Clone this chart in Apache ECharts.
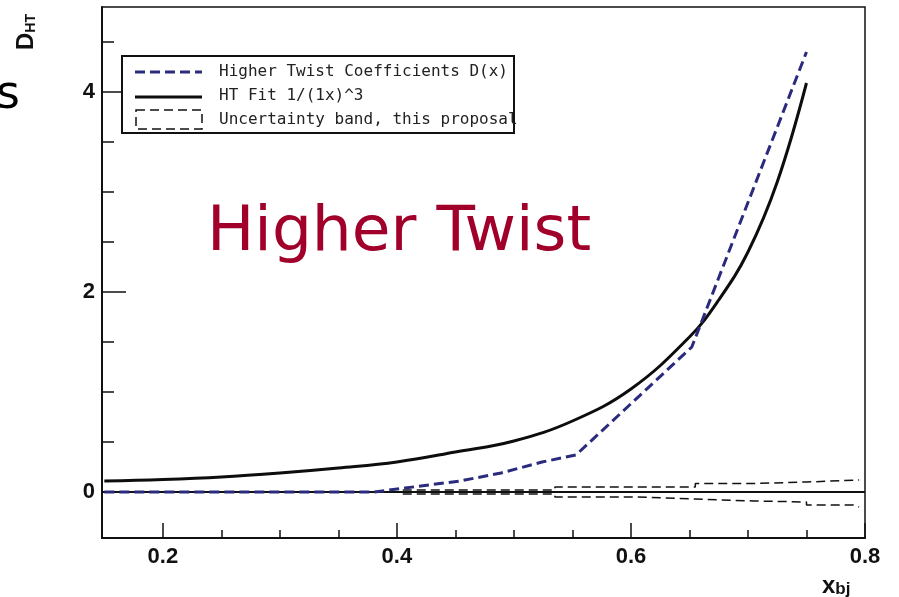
<!DOCTYPE html>
<html>
<head>
<meta charset="utf-8">
<script src="https://cdn.jsdelivr.net/npm/echarts@6/dist/echarts.min.js"></script>
<style>
  html, body { margin: 0; padding: 0; background: #fff; }
  #chart { width: 899px; height: 597px; }
</style>
</head>
<body>
<div id="chart"></div>
<script>
// Higher-twist coefficient D(x) (piecewise) against x_bj
const htX = [0.15, 0.2, 0.25, 0.3, 0.35, 0.38, 0.407, 0.454, 0.489, 0.524, 0.553, 0.652, 0.75];
const htY = [0, 0, 0, 0, 0, 0, 0.04, 0.11, 0.19, 0.30, 0.37, 1.45, 4.40];

// Fit curve of the form 1/(1-x)^3, read at these x values
const fitX = [0.15, 0.2, 0.25, 0.3, 0.35, 0.4, 0.45, 0.5, 0.55, 0.6, 0.65, 0.675, 0.7, 0.725, 0.75];
const fitY = [0.11, 0.125, 0.15, 0.19, 0.24, 0.30, 0.40, 0.51, 0.71, 1.03, 1.55, 1.92, 2.40, 3.10, 4.09];

// Uncertainty band edges (binned, drawn as steps)
const bandUpX = [0.405, 0.535, 0.655, 0.705, 0.75, 0.795];
const bandUpY = [0.02, 0.05, 0.085, 0.10, 0.12, 0.12];
const bandLoX = [0.405, 0.535, 0.605, 0.655, 0.705, 0.75, 0.79, 0.795];
const bandLoY = [-0.02, -0.05, -0.07, -0.09, -0.10, -0.13, -0.15, -0.15];

// Axis ranges and ticks
const xRange = [0.148, 0.8];
const yRange = [-0.46, 4.85];
const xMajor = [0.2, 0.4, 0.6, 0.8];
const xMinor = [0.25, 0.3, 0.35, 0.45, 0.5, 0.55, 0.65, 0.7, 0.75];
const yMajor = [0, 2, 4];
const yMinor = [0.5, 1, 1.5, 2.5, 3, 3.5, 4.5];

const legendLabels = [
  'Higher Twist Coefficients D(x)',
  'HT Fit 1/(1x)^3',
  'Uncertainty band, this proposal'
];

const zip = (xs, ys) => xs.map((x, i) => [x, ys[i]]);

const labelFont = { fontFamily: 'Liberation Sans', fontWeight: 'bold', fontSize: 22, color: '#111' };

const chart = echarts.init(document.getElementById('chart'), null, { renderer: 'canvas' });

chart.setOption({
  animation: false,
  backgroundColor: '#ffffff',
  grid: {
    left: 102, right: 34, top: 7, bottom: 59,
    show: true, borderColor: '#111', borderWidth: 1.5,
    outerBoundsMode: 'none'
  },
  xAxis: [
    {
      type: 'value', position: 'bottom', min: xRange[0], max: xRange[1],
      axisLine: { show: true, onZero: false, lineStyle: { color: '#111', width: 2 } },
      axisTick: { show: true, inside: true, length: 15, customValues: xMajor, lineStyle: { color: '#111', width: 1.5 } },
      axisLabel: Object.assign({ show: true, margin: 8, customValues: xMajor, formatter: v => v.toFixed(1) }, labelFont),
      splitLine: { show: false }
    },
    {
      type: 'value', position: 'bottom', min: xRange[0], max: xRange[1],
      axisLine: { show: false, onZero: false },
      axisTick: { show: true, inside: true, length: 8, customValues: xMinor, lineStyle: { color: '#111', width: 1.5 } },
      axisLabel: { show: false },
      splitLine: { show: false }
    }
  ],
  yAxis: [
    {
      type: 'value', position: 'left', min: yRange[0], max: yRange[1],
      axisLine: { show: true, onZero: false, lineStyle: { color: '#111', width: 2 } },
      axisTick: { show: true, inside: true, length: 24, customValues: yMajor, lineStyle: { color: '#111', width: 1.5 } },
      axisLabel: Object.assign({ show: true, margin: 7, customValues: yMajor, formatter: v => String(v) }, labelFont),
      splitLine: { show: false }
    },
    {
      type: 'value', position: 'left', min: yRange[0], max: yRange[1],
      axisLine: { show: false, onZero: false },
      axisTick: { show: true, inside: true, length: 12, customValues: yMinor, lineStyle: { color: '#111', width: 1.5 } },
      axisLabel: { show: false },
      splitLine: { show: false }
    }
  ],
  series: [
    {
      name: 'zero', type: 'line', xAxisIndex: 0, yAxisIndex: 0,
      data: [[xRange[0], 0], [xRange[1], 0]],
      showSymbol: false, silent: true, z: 1,
      lineStyle: { color: '#111', width: 2 }
    },
    {
      name: 'band upper', type: 'line', step: 'end', xAxisIndex: 0, yAxisIndex: 0,
      data: zip(bandUpX, bandUpY), showSymbol: false, z: 2,
      lineStyle: { color: '#111', width: 1.5, type: [9, 5] }
    },
    {
      name: 'band lower', type: 'line', step: 'end', xAxisIndex: 0, yAxisIndex: 0,
      data: zip(bandLoX, bandLoY), showSymbol: false, z: 2,
      lineStyle: { color: '#111', width: 1.5, type: [9, 5] }
    },
    {
      name: 'HT Fit', type: 'line', xAxisIndex: 0, yAxisIndex: 0,
      data: zip(fitX, fitY), showSymbol: false, smooth: 0.4, z: 3,
      lineStyle: { color: '#0d0d0d', width: 3 }
    },
    {
      name: 'Higher Twist Coefficients', type: 'line', xAxisIndex: 0, yAxisIndex: 0,
      data: zip(htX, htY), showSymbol: false, z: 4,
      lineStyle: { color: '#2b2b7e', width: 3, type: [10, 5] }
    }
  ],
  graphic: [
    // legend box
    { type: 'rect', z: 100, shape: { x: 122, y: 56, width: 392, height: 77 },
      style: { fill: '#fff', stroke: '#111', lineWidth: 2 } },
    { type: 'line', z: 101, shape: { x1: 135, y1: 72, x2: 202, y2: 72 },
      style: { stroke: '#2b2b7e', lineWidth: 3, lineDash: [10, 5] } },
    { type: 'line', z: 101, shape: { x1: 135, y1: 97, x2: 202, y2: 97 },
      style: { stroke: '#0d0d0d', lineWidth: 3 } },
    { type: 'rect', z: 101, shape: { x: 136, y: 110, width: 66, height: 19 },
      style: { fill: 'none', stroke: '#111', lineWidth: 1.5, lineDash: [9, 5] } },
    ...legendLabels.map((t, i) => ({
      type: 'text', z: 102, x: 219, y: [72, 96, 120][i],
      style: { text: t, fill: '#222', font: '16px "DejaVu Sans Mono"', textVerticalAlign: 'middle' }
    })),
    // title inside the plot
    { type: 'text', z: 50, x: 207, y: 234,
      style: { text: 'Higher Twist', fill: '#a0002a', font: '63px "DejaVu Sans"', textVerticalAlign: 'middle' } },
    // axis titles
    { type: 'text', z: 50, x: 38, y: 50, rotation: Math.PI / 2,
      style: { text: '{d|D}{s|HT}', rich: {
        d: { font: 'bold 24px "Liberation Sans"', fill: '#111' },
        s: { font: 'bold 14px "Liberation Sans"', fill: '#111', padding: [10, 0, 0, 0] }
      }, textVerticalAlign: 'bottom' } },
    { type: 'text', z: 50, x: 822, y: 604,
      style: { text: '{x|x}{s|bj}', rich: {
        x: { font: 'bold 24px "Liberation Sans"', fill: '#111', padding: [0, 0, 6, 0] },
        s: { font: 'bold 17px "Liberation Sans"', fill: '#111' }
      }, textVerticalAlign: 'bottom' } },
    // stray slide text at the left edge
    { type: 'text', z: 50, x: -4, y: 96,
      style: { text: 's', fill: '#000', font: '46px "DejaVu Sans"', textVerticalAlign: 'middle' } }
  ]
});
</script>
</body>
</html>
